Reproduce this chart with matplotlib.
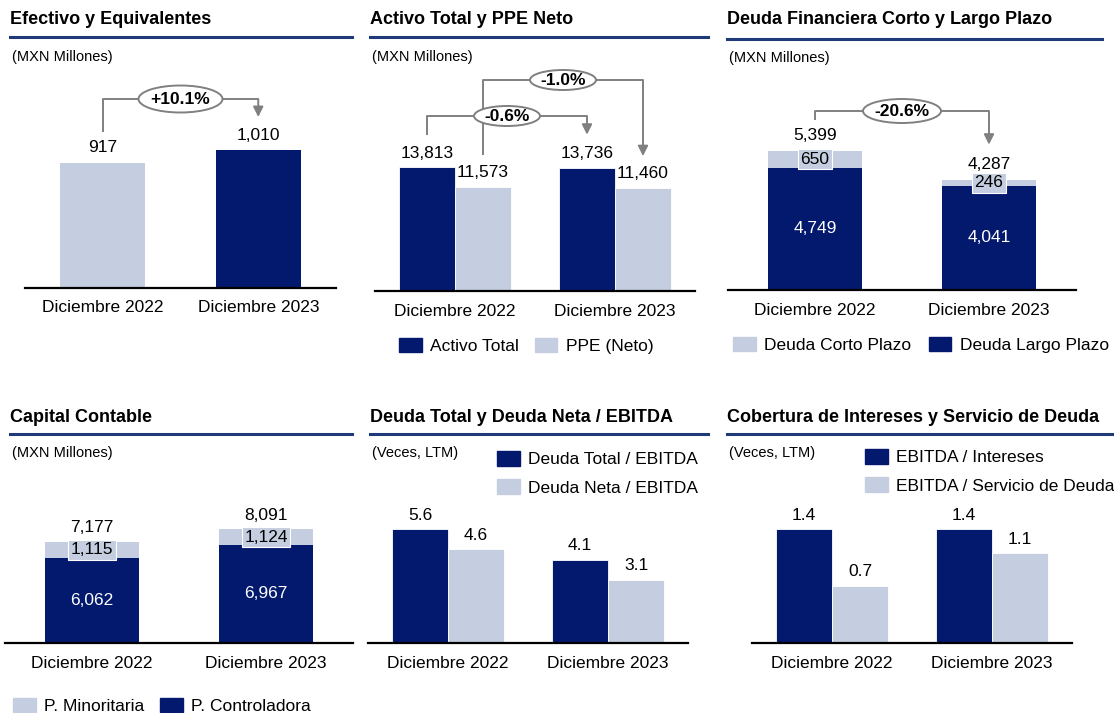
import numpy as np
import matplotlib.pyplot as plt
from matplotlib.patches import Patch, Ellipse
from matplotlib.lines import Line2D

plt.rcParams['font.family'] = ['Liberation Sans', 'DejaVu Sans']

W, H = 1114, 713
DARK = '#03196E'
LIGHT = '#C4CEE0'
LINE = '#1F3A78'
GRAY = '#808080'
PX = 72 / 100  # points per pixel

periodos = ['Diciembre 2022', 'Diciembre 2023']

efectivo = [917, 1010]
efectivo_var = '+10.1%'

activo_total = [13813, 13736]
ppe_neto = [11573, 11460]
activo_var = '-0.6%'
ppe_var = '-1.0%'

deuda_corto = [650, 246]
deuda_largo = [4749, 4041]
deuda_var = '-20.6%'

p_minoritaria = [1115, 1124]
p_controladora = [6062, 6967]

deuda_total_ebitda = [5.6, 4.1]
deuda_neta_ebitda = [4.6, 3.1]

ebitda_intereses = [1.4, 1.4]
ebitda_servicio = [0.7, 1.1]

fig = plt.figure(figsize=(W / 100, H / 100), dpi=100)


def panel(x0, x1, yb, yt, upp):
    # axes placed in pixel coords, upp = data units per pixel
    ax = fig.add_axes([x0 / W, 1 - yb / H, (x1 - x0) / W, (yb - yt) / H])
    ax.set_xlim(-0.5, 1.5)
    ax.set_ylim(0, (yb - yt) * upp)
    for s in ['top', 'right', 'left']:
        ax.spines[s].set_visible(False)
    ax.spines['bottom'].set_linewidth(1.6)
    ax.spines['bottom'].set_color('black')
    ax.set_yticks([])
    ax.set_xticks([0, 1], periodos, fontsize=12.5)
    ax.tick_params(axis='x', length=0, pad=9)
    ax.patch.set_alpha(0)
    ax.upp = upp
    ax.xpx = (x1 - x0) / 2.0
    return ax


def header(x0, x1, y_title, y_line, y_sub, title, sub):
    fig.text(x0 / W, 1 - y_title / H, title, fontsize=13, fontweight='bold',
             va='center', ha='left')
    fig.add_artist(Line2D([x0 / W, x1 / W], [1 - y_line / H] * 2,
                          color=LINE, lw=2.2))
    fig.text((x0 + 2) / W, 1 - y_sub / H, sub, fontsize=10.5, va='center',
             ha='left')


def label(ax, x, y, txt, off=15, color='black', box=False):
    kw = {}
    if box:
        kw['bbox'] = dict(boxstyle='square,pad=0.14', fc=LIGHT, ec='white',
                          lw=0.8)
    ax.annotate(txt, (x, y), xytext=(0, off * PX), textcoords='offset points',
                ha='center', va='center', fontsize=12.5, color=color,
                annotation_clip=False, **kw)


def bracket(ax, xa, xb, ya, yb, ytop, txt, ew, eh):
    ax.plot([xa, xa, xb], [ya, ytop, ytop], color=GRAY, lw=1.4,
            clip_on=False, solid_capstyle='butt')
    ax.annotate('', xy=(xb, yb), xytext=(xb, ytop),
                arrowprops=dict(arrowstyle='-|>,head_length=0.6,head_width=0.3',
                                color=GRAY, lw=1.4, shrinkA=0, shrinkB=0),
                annotation_clip=False)
    xm = (xa + xb) / 2
    ax.add_patch(Ellipse((xm, ytop), ew / ax.xpx, eh * ax.upp, fc='white',
                         ec=GRAY, lw=1.4, clip_on=False, zorder=3))
    ax.text(xm, ytop, txt, ha='center', va='center', fontsize=12.5,
            fontweight='bold', zorder=4)


def legend(ax, handles, x, y, loc, ncol, colsp=0.9):
    ax.legend(handles=handles, bbox_to_anchor=(x / W, 1 - y / H),
              bbox_transform=fig.transFigure, loc=loc, ncol=ncol,
              frameon=False, borderpad=0, borderaxespad=0, fontsize=12.5,
              handlelength=1.3, handleheight=0.92, handletextpad=0.5,
              columnspacing=colsp, labelspacing=0.7)


xpos = np.arange(len(periodos))
bw1 = 0.545
bw2 = 0.35

# ---- 1. Efectivo y Equivalentes
header(10, 352, 20, 37, 57, 'Efectivo y Equivalentes', '(MXN Millones)')
ax1 = panel(25, 336, 288, 80, 1010 / 138)
ax1.bar(xpos, efectivo, bw1, color=[LIGHT, DARK])
for i, v in enumerate(efectivo):
    label(ax1, i, v, f'{v:,}')
u = ax1.upp
bracket(ax1, 0, 1, efectivo[0] + 31 * u, efectivo[1] + 33 * u,
        efectivo[1] + 51 * u, efectivo_var, 84, 27)

# ---- 2. Activo Total y PPE Neto
header(370, 708, 20, 37, 57, 'Activo Total y PPE Neto', '(MXN Millones)')
ax2 = panel(375, 695, 291, 60, 13813 / 124)
ax2.bar(xpos - bw2 / 2, activo_total, bw2, color=DARK, ec='white', lw=0.6)
ax2.bar(xpos + bw2 / 2, ppe_neto, bw2, color=LIGHT, ec='white', lw=0.6)
for i in range(2):
    label(ax2, i - bw2 / 2, activo_total[i], f'{activo_total[i]:,}', off=14)
    label(ax2, i + bw2 / 2, ppe_neto[i], f'{ppe_neto[i]:,}', off=15)
u = ax2.upp
bracket(ax2, -bw2 / 2, 1 - bw2 / 2, activo_total[0] + 32 * u,
        activo_total[1] + 33 * u, activo_total[0] + 51 * u, activo_var, 66, 20)
bracket(ax2, bw2 / 2, 1 + bw2 / 2, ppe_neto[0] + 32 * u,
        ppe_neto[1] + 32 * u, activo_total[0] + 87 * u, ppe_var, 66, 20)
legend(ax2, [Patch(color=DARK, label='Activo Total'),
             Patch(color=LIGHT, label='PPE (Neto)')], 399, 346, 'center left', 2)

# ---- 3. Deuda Financiera
header(727, 1102, 20, 39, 58, 'Deuda Financiera Corto y Largo Plazo',
       '(MXN Millones)')
ax3 = panel(728, 1076, 290, 90, 5399 / 139)
ax3.bar(xpos, deuda_largo, bw1, color=DARK)
ax3.bar(xpos, deuda_corto, bw1, bottom=deuda_largo, color=LIGHT)
for i in range(2):
    tot = deuda_largo[i] + deuda_corto[i]
    label(ax3, i, tot, f'{tot:,}')
    label(ax3, i, deuda_largo[i] + deuda_corto[i] / 2, f'{deuda_corto[i]:,}',
          off=0, box=True)
    label(ax3, i, deuda_largo[i] / 2, f'{deuda_largo[i]:,}', off=0,
          color='white')
u = ax3.upp
tot3 = [a + b for a, b in zip(deuda_largo, deuda_corto)]
bracket(ax3, 0, 1, tot3[0] + 31 * u, tot3[1] + 35 * u, tot3[0] + 40 * u,
        deuda_var, 78, 24)
legend(ax3, [Patch(color=LIGHT, label='Deuda Corto Plazo'),
             Patch(color=DARK, label='Deuda Largo Plazo')], 733, 345,
       'center left', 2, colsp=1.0)

# ---- 4. Capital Contable
header(10, 352, 418, 434, 453, 'Capital Contable', '(MXN Millones)')
ax4 = panel(5, 353, 643, 480, 7177 / 101)
ax4.bar(xpos, p_controladora, bw1, color=DARK)
ax4.bar(xpos, p_minoritaria, bw1, bottom=p_controladora, color=LIGHT)
for i in range(2):
    tot = p_controladora[i] + p_minoritaria[i]
    label(ax4, i, tot, f'{tot:,}', off=14)
    label(ax4, i, p_controladora[i] + p_minoritaria[i] / 2,
          f'{p_minoritaria[i]:,}', off=0, box=True)
    label(ax4, i, p_controladora[i] / 2, f'{p_controladora[i]:,}', off=0,
          color='white')
legend(ax4, [Patch(color=LIGHT, label='P. Minoritaria'),
             Patch(color=DARK, label='P. Controladora')], 13, 706,
       'center left', 2)

# ---- 5. Deuda Total y Deuda Neta / EBITDA
header(370, 708, 418, 434, 453, 'Deuda Total y Deuda Neta / EBITDA',
       '(Veces, LTM)')
ax5 = panel(368, 688, 643, 500, 5.6 / 114)
ax5.bar(xpos - bw2 / 2, deuda_total_ebitda, bw2, color=DARK, ec='white', lw=0.6)
ax5.bar(xpos + bw2 / 2, deuda_neta_ebitda, bw2, color=LIGHT, ec='white', lw=0.6)
for i in range(2):
    label(ax5, i - bw2 / 2, deuda_total_ebitda[i], f'{deuda_total_ebitda[i]:.1f}',
          off=14)
    label(ax5, i + bw2 / 2, deuda_neta_ebitda[i], f'{deuda_neta_ebitda[i]:.1f}',
          off=14)
legend(ax5, [Patch(color=DARK, label='Deuda Total / EBITDA'),
             Patch(color=LIGHT, label='Deuda Neta / EBITDA')], 497, 451,
       'upper left', 1)

# ---- 6. Cobertura de Intereses y Servicio de Deuda
header(727, 1114, 418, 434, 453, 'Cobertura de Intereses y Servicio de Deuda',
       '(Veces, LTM)')
ax6 = panel(752, 1072, 643, 500, 1.4 / 114)
ax6.bar(xpos - bw2 / 2, ebitda_intereses, bw2, color=DARK, ec='white', lw=0.6)
ax6.bar(xpos + bw2 / 2, ebitda_servicio, bw2, color=LIGHT, ec='white', lw=0.6)
for i in range(2):
    label(ax6, i - bw2 / 2, ebitda_intereses[i], f'{ebitda_intereses[i]:.1f}',
          off=14)
    label(ax6, i + bw2 / 2, ebitda_servicio[i], f'{ebitda_servicio[i]:.1f}',
          off=14)
legend(ax6, [Patch(color=DARK, label='EBITDA / Intereses'),
             Patch(color=LIGHT, label='EBITDA / Servicio de Deuda')], 865, 449,
       'upper left', 1)

fig.savefig('out.png', dpi=100)
